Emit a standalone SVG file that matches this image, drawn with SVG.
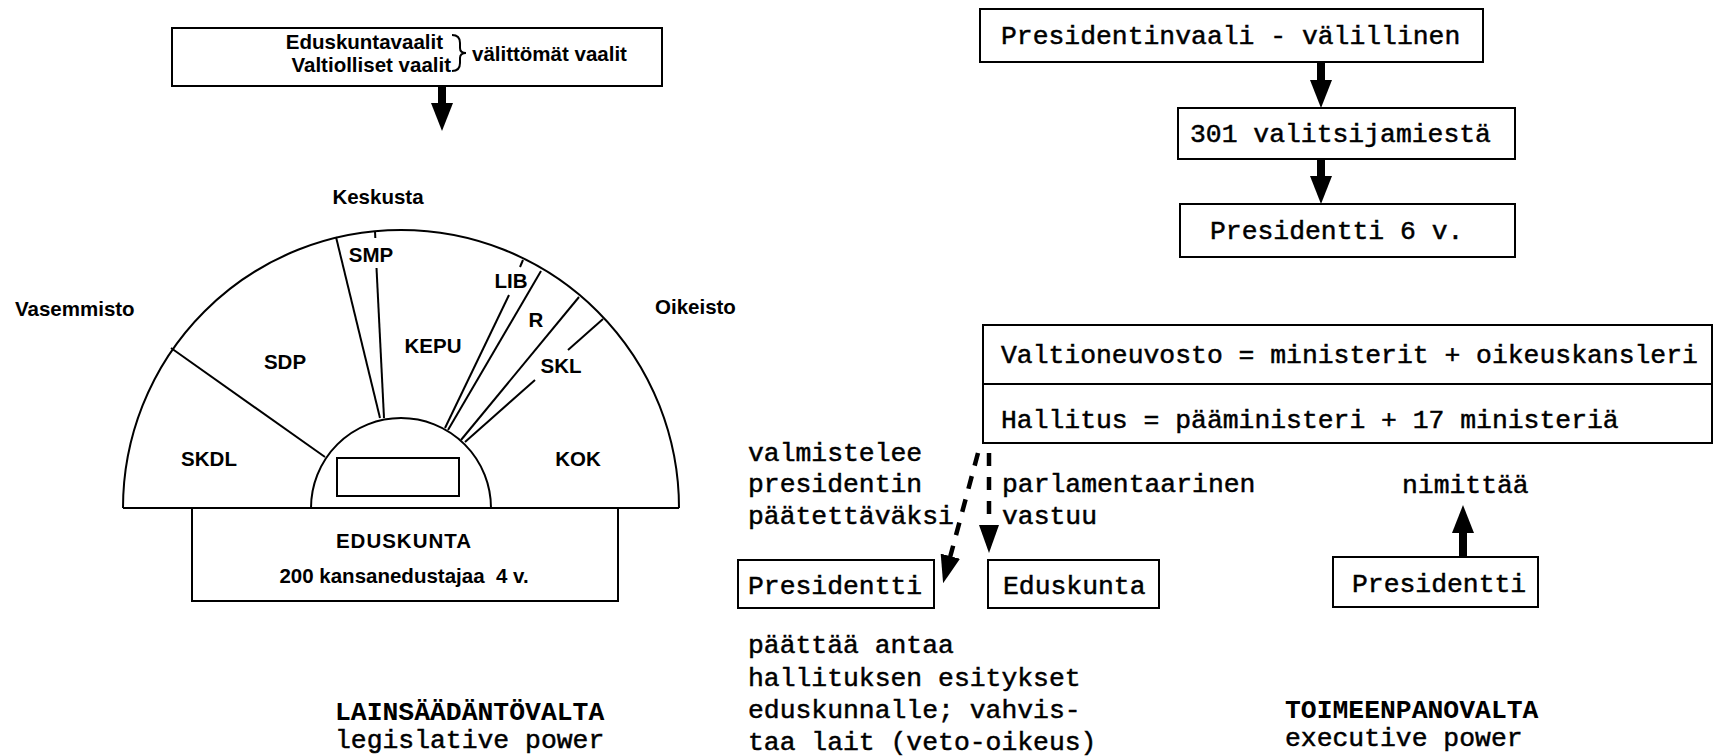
<svg xmlns="http://www.w3.org/2000/svg" width="1715" height="756" viewBox="0 0 1715 756">
<style>
.box{fill:#fff;stroke:#000;stroke-width:2}
.ln{fill:none;stroke:#000;stroke-width:2}
.sans{font-family:"Liberation Sans",Arial,sans-serif;font-weight:bold;font-size:20.5px;fill:#000}
.mono{font-family:"Liberation Mono","Courier New",monospace;font-size:26.4px;fill:#000;stroke:#000;stroke-width:0.5}
.monob{font-family:"Liberation Mono","Courier New",monospace;font-weight:bold;font-size:26.4px;fill:#000}
.arr{stroke:#000;stroke-width:8;fill:none}
.darr{stroke:#000;stroke-width:4.5;fill:none;stroke-dasharray:13 11}
</style>
<defs>
<marker id="ah" viewBox="0 0 28 22" refX="6" refY="11" markerWidth="28" markerHeight="22" markerUnits="userSpaceOnUse" orient="auto">
<path d="M0,0 L28,11 L0,22 Z" fill="#000"/>
</marker>
<marker id="ahd" viewBox="0 0 28 20" refX="6" refY="10" markerWidth="28" markerHeight="20" markerUnits="userSpaceOnUse" orient="auto">
<path d="M0,0 L28,10 L0,20 Z" fill="#000"/>
</marker>
</defs>
<rect width="1715" height="756" fill="#fff"/>

<g id="node-vaalit">
<rect class="box" x="172" y="28" width="490" height="58"/>
<text class="sans" x="443" y="49" text-anchor="end" font-size="19.5">Eduskuntavaalit</text>
<text class="sans" x="451" y="72" text-anchor="end" font-size="19.5">Valtiolliset vaalit</text>
<path class="ln" stroke-width="2.5" d="M452,35 Q460,35 460,43 L460,48 Q460,53 466,53 Q460,53 460,58 L460,63 Q460,71 452,71"/>
<text class="sans" x="472" y="61" font-size="21">välittömät vaalit</text>
</g>

<g id="node-chamber">
<path class="ln" d="M123,508 A278,278 0 0 1 679,508"/>
<line class="ln" x1="123" y1="508" x2="679" y2="508"/>
<path class="ln" d="M311,508 A90,90 0 0 1 491,508"/>
<rect class="box" x="337" y="458" width="122" height="38"/>
<line class="ln" x1="171" y1="348" x2="325" y2="457"/>
<line class="ln" x1="336" y1="237" x2="380" y2="418"/>
<line class="ln" x1="375" y1="231" x2="375.3" y2="238"/>
<line class="ln" x1="376.5" y1="268" x2="384" y2="418"/>
<line class="ln" x1="523" y1="260" x2="520" y2="267"/>
<line class="ln" x1="509" y1="295" x2="445" y2="428"/>
<line class="ln" x1="541" y1="271" x2="448" y2="430"/>
<line class="ln" x1="579" y1="297" x2="461" y2="440"/>
<line class="ln" x1="603" y1="319" x2="568" y2="350"/>
<line class="ln" x1="535" y1="380" x2="465" y2="442"/>
<text class="sans" x="378" y="204" text-anchor="middle">Keskusta</text>
<text class="sans" x="15" y="316">Vasemmisto</text>
<text class="sans" x="655" y="314">Oikeisto</text>
<text class="sans" x="371" y="262" text-anchor="middle">SMP</text>
<text class="sans" x="285" y="369" text-anchor="middle">SDP</text>
<text class="sans" x="209" y="466" text-anchor="middle">SKDL</text>
<text class="sans" x="433" y="353" text-anchor="middle">KEPU</text>
<text class="sans" x="511" y="288" text-anchor="middle">LIB</text>
<text class="sans" x="536" y="327" text-anchor="middle">R</text>
<text class="sans" x="561" y="373" text-anchor="middle">SKL</text>
<text class="sans" x="578" y="466" text-anchor="middle">KOK</text>
</g>

<g id="node-eduskunta">
<rect class="box" x="192" y="508" width="426" height="93"/>
<text class="sans" x="404" y="548" text-anchor="middle" font-size="21" letter-spacing="1">EDUSKUNTA</text>
<text class="sans" x="404" y="583" text-anchor="middle" font-size="21" xml:space="preserve">200 kansanedustajaa  4 v.</text>
</g>

<g id="node-presidentinvaali">
<rect class="box" x="980" y="9" width="503" height="53"/>
<text class="mono" x="1001" y="44">Presidentinvaali - välillinen</text>
</g>
<g id="node-valitsijat">
<rect class="box" x="1178" y="108" width="337" height="51"/>
<text class="mono" x="1190" y="142">301 valitsijamiestä</text>
</g>
<g id="node-presidentti6">
<rect class="box" x="1180" y="204" width="335" height="53"/>
<text class="mono" x="1210" y="239">Presidentti 6 v.</text>
</g>

<g id="node-valtioneuvosto">
<rect class="box" x="983" y="325" width="729" height="118"/>
<line class="ln" x1="983" y1="384" x2="1712" y2="384"/>
<text class="mono" x="1001" y="363">Valtioneuvosto = ministerit + oikeuskansleri</text>
<text class="mono" x="1001" y="428">Hallitus = pääministeri + 17 ministeriä</text>
</g>

<g id="node-presidentti-left">
<rect class="box" x="738" y="560" width="196" height="48"/>
<text class="mono" x="748" y="594">Presidentti</text>
</g>
<g id="node-eduskunta-right">
<rect class="box" x="988" y="560" width="171" height="48"/>
<text class="mono" x="1003" y="594">Eduskunta</text>
</g>
<g id="node-presidentti-right">
<rect class="box" x="1333" y="557" width="205" height="50"/>
<text class="mono" x="1352" y="592">Presidentti</text>
</g>

<g id="labels">
<text class="mono" x="748" y="461">valmistelee</text>
<text class="mono" x="748" y="492">presidentin</text>
<text class="mono" x="748" y="524">päätettäväksi</text>
<text class="mono" x="1002" y="492">parlamentaarinen</text>
<text class="mono" x="1002" y="524">vastuu</text>
<text class="mono" x="1402" y="493">nimittää</text>
<text class="mono" x="748" y="653">päättää antaa</text>
<text class="mono" x="748" y="686">hallituksen esitykset</text>
<text class="mono" x="748" y="718">eduskunnalle; vahvis-</text>
<text class="mono" x="748" y="750">taa lait (veto-oikeus)</text>
<text class="monob" x="335" y="720">LAINSÄÄDÄNTÖVALTA</text>
<text class="mono" x="335" y="748">legislative power</text>
<text class="monob" x="1285" y="718">TOIMEENPANOVALTA</text>
<text class="mono" x="1285" y="746">executive power</text>
</g>

<g id="connectors">
<line class="arr" x1="442" y1="86" x2="442" y2="109" marker-end="url(#ah)"/>
<line class="arr" x1="1321" y1="62" x2="1321" y2="86" marker-end="url(#ah)"/>
<line class="arr" x1="1321" y1="159" x2="1321" y2="182" marker-end="url(#ah)"/>
<line class="arr" x1="1463" y1="557" x2="1463" y2="527" marker-end="url(#ah)"/>
<line class="darr" x1="978" y1="453" x2="948.8" y2="562" marker-end="url(#ahd)"/>
<line class="darr" x1="989" y1="453" x2="989" y2="531" marker-end="url(#ahd)"/>
</g>
</svg>
